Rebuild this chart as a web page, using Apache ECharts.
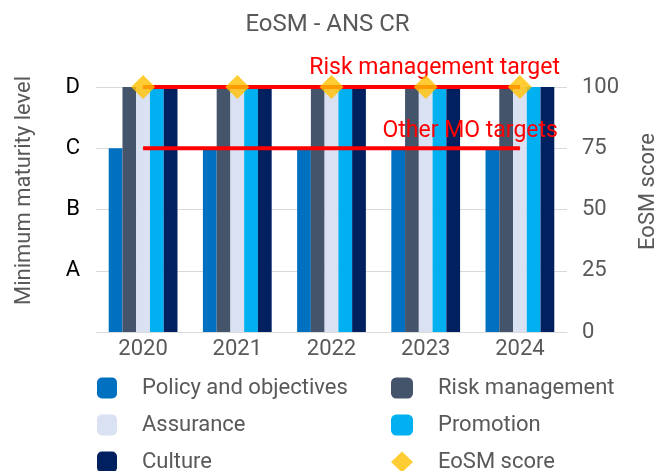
<!DOCTYPE html>
<html>
<head>
<meta charset="utf-8">
<script src="https://cdn.jsdelivr.net/npm/echarts@6/dist/echarts.min.js"></script>
<style>
  html, body { margin: 0; padding: 0; background: #fff; }
  #main { width: 655px; height: 471px; }
</style>
</head>
<body>
<div id="main"></div>
<script>
// data
var years = ['2020', '2021', '2022', '2023', '2024'];
var policy = [75, 75, 75, 75, 75];
var riskMgmt = [100, 100, 100, 100, 100];
var assurance = [100, 100, 100, 100, 100];
var promotion = [100, 100, 100, 100, 100];
var culture = [100, 100, 100, 100, 100];
var eosmScore = [100, 100, 100, 100, 100];
var riskTarget = [100, 100, 100, 100, 100];
var otherTarget = [75, 75, 75, 75, 75];
var levelLabels = {0: '', 25: 'A', 50: 'B', 75: 'C', 100: 'D'};

var myChart = echarts.init(document.getElementById('main'));

var grey = '#595959';
var font = 'Roboto';

// the last point of a target line carries its label
function targetData(arr, text, off) {
    return arr.map(function (v, i) {
        if (i < arr.length - 1) return v;
        return {
            value: v,
            label: {
                show: true,
                position: 'top',
                align: 'right',
                offset: off,
                formatter: text,
                color: '#ff0000',
                fontFamily: font,
                fontSize: 23
            }
        };
    });
}

function bar(name, data, color) {
    return {
        name: name,
        type: 'bar',
        yAxisIndex: 0,
        barGap: 0,
        barCategoryGap: '27%',
        itemStyle: {color: color},
        data: data
    };
}

var legendText = {color: grey, fontSize: 22, lineHeight: 22, fontFamily: font, padding: [0, 0, 0, 20]};

var option = {
    animation: false,
    textStyle: {fontFamily: font},
    title: {
        text: 'EoSM - ANS CR',
        left: 'center',
        top: 8,
        textStyle: {color: grey, fontSize: 24, fontWeight: 'normal', fontFamily: font}
    },
    grid: {left: 96, right: 88, top: 87, bottom: 139, outerBoundsMode: 'none', containLabel: false},
    legend: [{
        orient: 'vertical',
        left: 97,
        top: 377,
        height: 110,
        padding: 0,
        itemWidth: 20,
        itemHeight: 21,
        itemGap: 15,
        textStyle: legendText,
        data: ['Policy and objectives', 'Assurance', 'Culture']
    }, {
        orient: 'vertical',
        left: 391,
        top: 377,
        height: 110,
        padding: 0,
        itemWidth: 22,
        itemHeight: 21,
        itemGap: 15,
        textStyle: legendText,
        data: ['Risk management', 'Promotion', 'EoSM score']
    }],
    xAxis: {
        type: 'category',
        data: years,
        axisLine: {lineStyle: {color: '#d9d9d9'}},
        axisTick: {show: false},
        axisLabel: {color: grey, fontSize: 22, margin: 6, fontFamily: font}
    },
    yAxis: [{
        type: 'value',
        min: 0,
        max: 100,
        interval: 25,
        name: 'Minimum maturity level',
        nameLocation: 'middle',
        nameGap: 61,
        nameTextStyle: {color: grey, fontSize: 22, fontFamily: font, padding: [0, 0, 0, 38]},
        axisLine: {show: false},
        axisTick: {show: false},
        axisLabel: {
            color: '#000',
            fontSize: 22,
            margin: 16,
            fontFamily: font,
            formatter: function (v) { return levelLabels[v]; }
        },
        splitLine: {lineStyle: {color: '#d9d9d9'}}
    }, {
        type: 'value',
        min: 0,
        max: 100,
        interval: 25,
        name: 'EoSM score',
        nameLocation: 'middle',
        nameGap: 70,
        nameTextStyle: {color: grey, fontSize: 22, fontFamily: font, padding: [0, 0, 0, 36]},
        axisLine: {show: false},
        axisTick: {show: false},
        axisLabel: {color: grey, fontSize: 22, margin: 15, fontFamily: font},
        splitLine: {show: false}
    }],
    series: [
        bar('Policy and objectives', policy, '#0070C0'),
        bar('Risk management', riskMgmt, '#44546A'),
        bar('Assurance', assurance, '#D9E1F2'),
        bar('Promotion', promotion, '#00B0F0'),
        bar('Culture', culture, '#002060'),
        {
            name: 'Risk management target',
            type: 'line',
            yAxisIndex: 0,
            symbol: 'circle',
            symbolSize: 1,
            itemStyle: {color: '#ff0000'},
            lineStyle: {color: '#ff0000', width: 4},
            z: 3,
            data: targetData(riskTarget, 'Risk management target', [40, -2])
        },
        {
            name: 'Other MO targets',
            type: 'line',
            yAxisIndex: 0,
            symbol: 'circle',
            symbolSize: 1,
            itemStyle: {color: '#ff0000'},
            lineStyle: {color: '#ff0000', width: 4},
            z: 3,
            data: targetData(otherTarget, 'Other MO targets', [38, 0])
        },
        {
            name: 'EoSM score',
            type: 'scatter',
            yAxisIndex: 1,
            symbol: 'diamond',
            symbolSize: [24, 24],
            itemStyle: {color: '#FFC000'},
            z: 5,
            data: eosmScore
        }
    ]
};

myChart.setOption(option);
</script>
</body>
</html>
